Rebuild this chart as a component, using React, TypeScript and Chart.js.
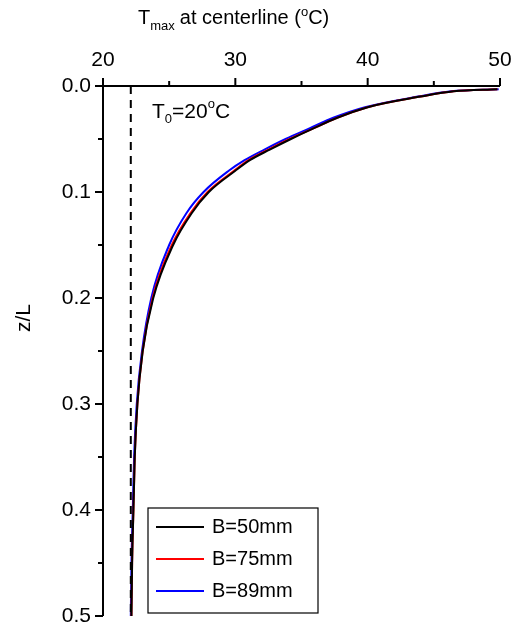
import React, { useEffect, useRef } from "react";
import { Chart, registerables } from "chart.js";
Chart.register(...registerables);

const zValues = [0.003, 0.005, 0.01, 0.02, 0.03, 0.04, 0.05, 0.06, 0.07, 0.08, 0.1, 0.12, 0.15, 0.2, 0.25, 0.3, 0.35, 0.4, 0.45, 0.5];
const tB50 = [49.8, 46.5, 44.0, 40.0, 37.7, 35.9, 34.2, 32.6, 31.1, 30.0, 28.0, 26.7, 25.3, 23.8, 23.0, 22.6, 22.4, 22.3, 22.2, 22.15];
const tB75 = [49.8, 46.5, 44.0, 40.0, 37.7, 35.9, 34.1, 32.5, 31.0, 29.9, 27.9, 26.6, 25.2, 23.75, 23.0, 22.6, 22.4, 22.3, 22.2, 22.15];
const tB89 = [49.9, 46.3, 43.8, 39.8, 37.4, 35.6, 33.8, 32.2, 30.7, 29.5, 27.6, 26.3, 25.0, 23.65, 22.95, 22.55, 22.35, 22.25, 22.15, 22.1];
const t0Line = 22.1;
const seriesNames = ["B=50mm", "B=75mm", "B=89mm"];
const seriesColors = ["#000000", "#ff0000", "#0000ff"];
const xMajor = [20, 30, 40, 50];
const yMajor = [0, 0.1, 0.2, 0.3, 0.4, 0.5];

const FONT = "'Liberation Sans', Arial, sans-serif";

const decor = {
  id: "decor",
  afterDraw(chart: any) {
    const { ctx, chartArea: a, scales } = chart;
    const xs = scales.x, ys = scales.y;
    ctx.save();
    ctx.strokeStyle = "#000";
    ctx.fillStyle = "#000";
    ctx.lineWidth = 2;
    ctx.beginPath();
    ctx.moveTo(a.left, a.bottom); ctx.lineTo(a.left, a.top); ctx.lineTo(a.right, a.top);
    ctx.stroke();
    for (let v = 20; v <= 50; v += 5) {
      const px = xs.getPixelForValue(v);
      const major = v % 10 === 0;
      ctx.beginPath(); ctx.moveTo(px, a.top); ctx.lineTo(px, a.top - (major ? 8 : 5)); ctx.stroke();
    }
    for (let i = 0; i <= 10; i++) {
      const py = ys.getPixelForValue(i * 0.05);
      const major = i % 2 === 0;
      ctx.beginPath(); ctx.moveTo(a.left, py); ctx.lineTo(a.left - (major ? 8 : 5), py); ctx.stroke();
    }
    ctx.font = `21px ${FONT}`;
    ctx.textAlign = "center"; ctx.textBaseline = "alphabetic";
    xMajor.forEach(v => ctx.fillText(String(v), xs.getPixelForValue(v), 66));
    ctx.textAlign = "right"; ctx.textBaseline = "middle";
    yMajor.forEach(v => ctx.fillText(v.toFixed(1), a.left - 12, ys.getPixelForValue(v)));
    ctx.textAlign = "left"; ctx.textBaseline = "alphabetic";
    let x = 138; const by = 24;
    ctx.font = `20px ${FONT}`; ctx.fillText("T", x, by); x += ctx.measureText("T").width;
    ctx.font = `13px ${FONT}`; ctx.fillText("max", x, by + 6); x += ctx.measureText("max").width + 5;
    ctx.font = `20px ${FONT}`; ctx.fillText("at centerline (", x, by); x += ctx.measureText("at centerline (").width;
    ctx.font = `13px ${FONT}`; ctx.fillText("o", x, by - 8); x += ctx.measureText("o").width;
    ctx.font = `20px ${FONT}`; ctx.fillText("C)", x, by);
    ctx.save(); ctx.translate(30, 318); ctx.rotate(-Math.PI / 2);
    ctx.textAlign = "center"; ctx.font = `21px ${FONT}`; ctx.fillText("z/L", 0, 0); ctx.restore();
    x = 152; const ty = 118;
    ctx.font = `21px ${FONT}`; ctx.fillText("T", x, ty); x += ctx.measureText("T").width;
    ctx.font = `13px ${FONT}`; ctx.fillText("0", x, ty + 5); x += ctx.measureText("0").width;
    ctx.font = `21px ${FONT}`; ctx.fillText("=20", x, ty); x += ctx.measureText("=20").width;
    ctx.font = `13px ${FONT}`; ctx.fillText("o", x, ty - 10); x += ctx.measureText("o").width;
    ctx.font = `21px ${FONT}`; ctx.fillText("C", x, ty);
    ctx.lineWidth = 1.2;
    ctx.fillStyle = "#fff";
    ctx.fillRect(148, 508, 170, 105);
    ctx.strokeRect(148, 508, 170, 105);
    ctx.font = `20px ${FONT}`; ctx.textBaseline = "middle";
    seriesNames.forEach((n, i) => {
      const yy = 527 + i * 32;
      ctx.strokeStyle = seriesColors[i]; ctx.lineWidth = 2;
      ctx.beginPath(); ctx.moveTo(156, yy); ctx.lineTo(204, yy); ctx.stroke();
      ctx.fillStyle = "#000"; ctx.fillText(n, 212, yy);
    });
    ctx.restore();
  },
};

export default function App() {
  const ref = useRef<HTMLCanvasElement>(null);
  useEffect(() => {
    document.body.style.margin = "0";
    const mk = (arr: number[]) => arr.map((t, i) => ({ x: t, y: zValues[i] }));
    const chart = new Chart(ref.current!, {
      type: "scatter",
      data: {
        datasets: [
          { data: [{ x: t0Line, y: 0 }, { x: t0Line, y: 0.5 }], showLine: true, borderColor: "#000", borderWidth: 2, borderDash: [8, 6], pointRadius: 0 },
          ...[tB50, tB75, tB89].map((arr, i) => ({
            label: seriesNames[i], data: mk(arr), showLine: true, borderColor: seriesColors[i],
            borderWidth: 2, pointRadius: 0, cubicInterpolationMode: "monotone" as const,
          })),
        ],
      },
      options: {
        animation: false, responsive: false,
        layout: { padding: { left: 0, top: 0, right: 18, bottom: 14 } },
        plugins: { legend: { display: false }, tooltip: { enabled: false } },
        scales: {
          x: { type: "linear", position: "top", min: 20, max: 50, grid: { display: false }, border: { display: false },
            ticks: { display: false }, afterFit: (s: any) => { s.height = 86; } },
          y: { type: "linear", reverse: true, min: 0, max: 0.5, grid: { display: false }, border: { display: false },
            ticks: { display: false }, afterFit: (s: any) => { s.width = 103; } },
        },
      },
      plugins: [decor],
    } as any);
    return () => chart.destroy();
  }, []);
  return <canvas ref={ref} width={518} height={630} style={{ display: "block" }} />;
}
